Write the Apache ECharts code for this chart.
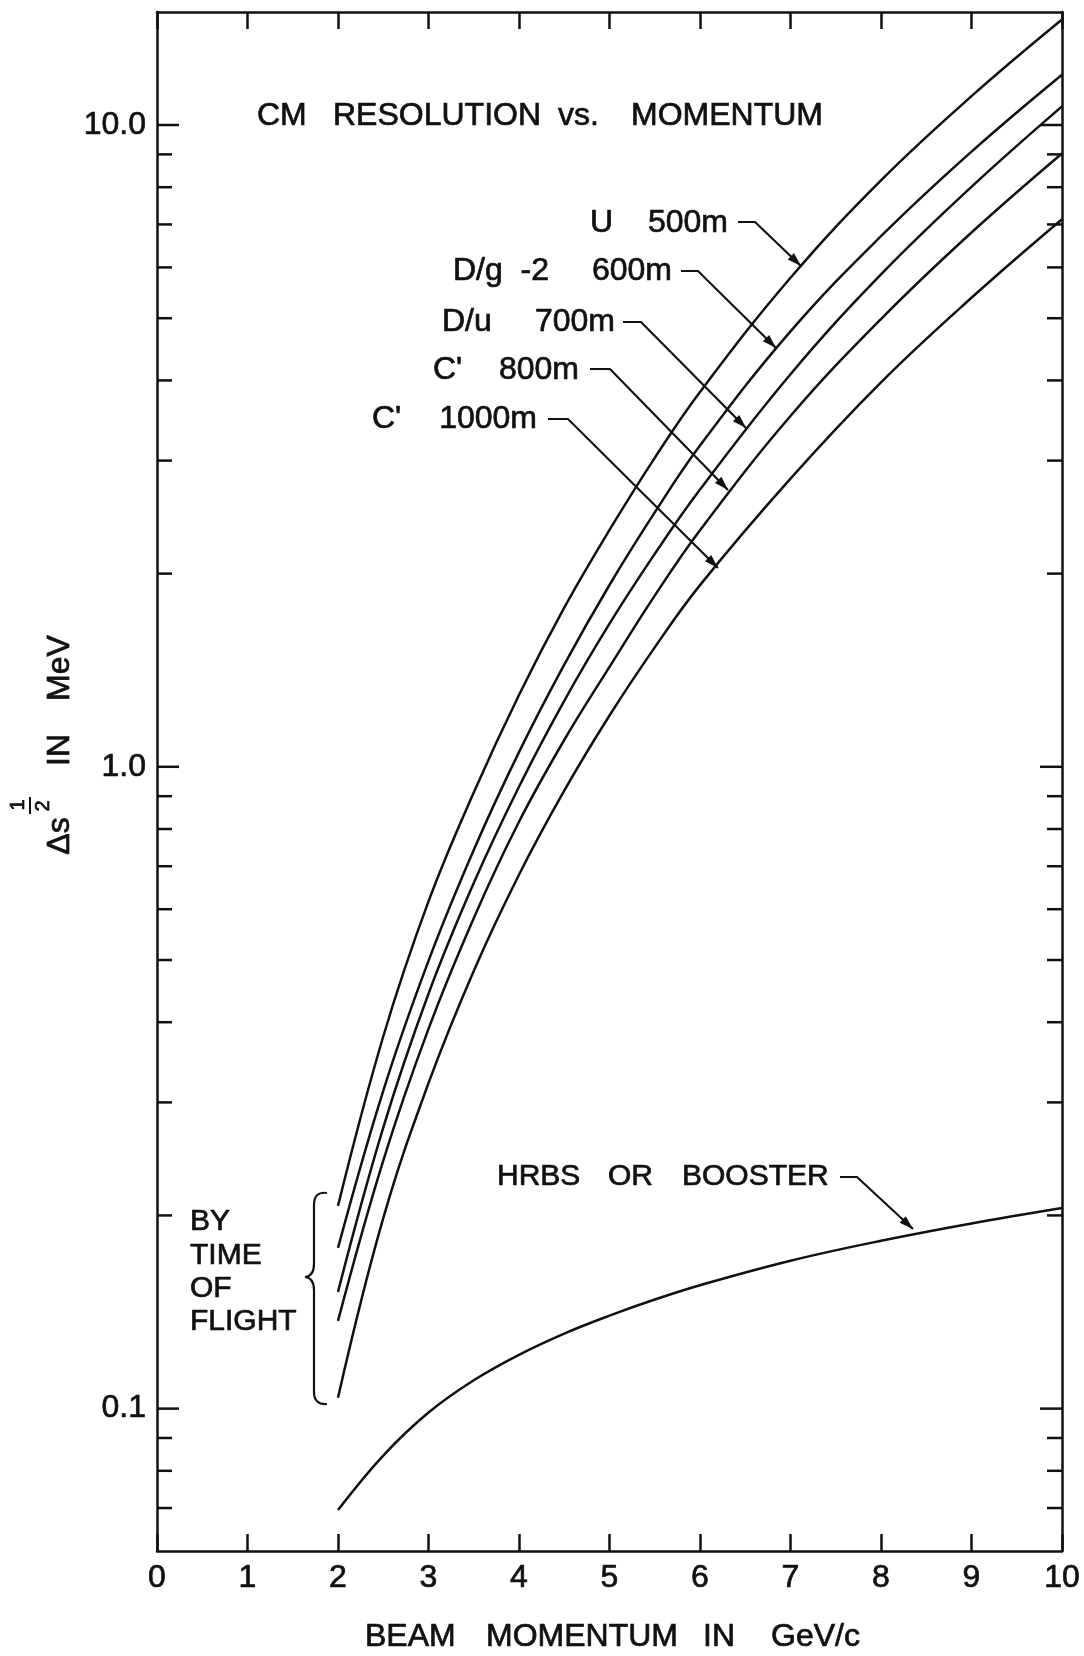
<!DOCTYPE html>
<html>
<head>
<meta charset="utf-8">
<script src="https://cdn.jsdelivr.net/npm/echarts@6/dist/echarts.min.js"></script>
<style>
  html, body { margin: 0; padding: 0; background: #fff; }
  #chart { width: 1084px; height: 1656px; }
</style>
</head>
<body>
<div id="chart"></div>
<script>
// beam momentum (GeV/c) where the curves were read
const momentum = [2, 2.5, 3, 3.5, 4, 4.5, 5, 5.5, 6, 7, 8, 9, 10];
// CM resolution in MeV, one array per spectrometer line
const u500 = [0.207, 0.380, 0.617, 0.912, 1.294, 1.770, 2.339, 3.03, 3.837, 5.78, 8.20, 11.09, 14.6];
const dg600 = [0.178, 0.3128, 0.4985, 0.742, 1.054, 1.443, 1.920, 2.491, 3.166, 4.77, 6.71, 9.09, 11.98];
const du700 = [0.152, 0.274, 0.443, 0.659, 0.931, 1.267, 1.671, 2.147, 2.704, 4.09, 5.85, 8.01, 10.69];
const c800 = [0.137, 0.2435, 0.3906, 0.581, 0.821, 1.101, 1.431, 1.848, 2.337, 3.52, 4.985, 6.80, 9.03];
const c1000 = [0.104, 0.198, 0.3214, 0.4808, 0.679, 0.918, 1.202, 1.535, 1.919, 2.812, 3.972, 5.38, 7.13];
const hrbs = [0.0695, 0.0845, 0.0986, 0.1107, 0.1213, 0.1309, 0.1396, 0.1479, 0.1557, 0.170, 0.1826, 0.1943, 0.2054];

// axis ticks / labels
const xTickLabels = ['0', '1', '2', '3', '4', '5', '6', '7', '8', '9', '10'];
const yTicks = [0.07, 0.08, 0.09, 0.1, 0.2, 0.3, 0.4, 0.5, 0.6, 0.7, 0.8, 0.9, 1, 2, 3, 4, 5, 6, 7, 8, 9, 10];
const yLabelValues = [0.1, 1, 10];
const yLabelText = ['0.1', '1.0', '10.0'];

const INK = '#111';
const FONT = '"Liberation Sans", Arial, sans-serif';

const chart = echarts.init(document.getElementById('chart'));

const curve = (arr) => ({
  type: 'line',
  data: momentum.map((x, i) => [x, arr[i]]),
  showSymbol: false,
  smooth: 0.4,
  silent: true,
  lineStyle: { color: INK, width: 2.5 },
  z: 3
});

const yLabel = (v) => {
  const i = yLabelValues.findIndex((t) => Math.abs(Math.log10(t) - Math.log10(v)) < 1e-6);
  return i >= 0 ? yLabelText[i] : '';
};

// tick marks on both vertical sides, placed through the log axis
const renderTick = (params, api) => {
  const v = api.value(1);
  const l = api.coord([0, v]);
  const r = api.coord([10, v]);
  const major = yLabelValues.some((t) => Math.abs(t - v) < 1e-9);
  const len = major ? 22 : 15;
  const st = { stroke: INK, lineWidth: 2.5 };
  return {
    type: 'group',
    children: [
      { type: 'line', shape: { x1: l[0], y1: l[1], x2: l[0] + len, y2: l[1] }, style: st },
      { type: 'line', shape: { x1: r[0], y1: r[1], x2: r[0] - len, y2: r[1] }, style: st }
    ]
  };
};

// lettering is a bit heavier than the plain font, so give it a hairline outline
const txt = (text, x, y, size, align, extra) => Object.assign({
  type: 'text', x, y, silent: true,
  style: {
    text, fill: INK, font: size + 'px ' + FONT,
    stroke: INK, lineWidth: 0.7,
    align: align, textAlign: align, verticalAlign: 'middle', textVerticalAlign: 'middle'
  }
}, extra || {});

const vtxt = (text, x, y, size) => txt(text, x, y, size, 'center', { rotation: Math.PI / 2 });

const stroke = { stroke: INK, lineWidth: 2.2, fill: 'none' };

const leader = (points) => {
  const [x1, y1] = points[points.length - 2];
  const [x2, y2] = points[points.length - 1];
  const a = Math.atan2(y2 - y1, x2 - x1);
  const L = 14, W = 4.5;
  const bx = x2 - L * Math.cos(a), by = y2 - L * Math.sin(a);
  return [
    { type: 'polyline', silent: true, shape: { points }, style: stroke },
    { type: 'polygon', silent: true, shape: { points: [[x2, y2], [bx - W * Math.sin(a), by + W * Math.cos(a)], [bx + W * Math.sin(a), by - W * Math.cos(a)]] }, style: { fill: INK } }
  ];
};

const bez = (x1, y1, cx, cy, x2, y2) => ({
  type: 'bezierCurve', silent: true,
  shape: { x1, y1, x2, y2, cpx1: cx, cpy1: cy },
  style: stroke
});
const seg = (x1, y1, x2, y2) => ({ type: 'line', silent: true, shape: { x1, y1, x2, y2 }, style: stroke });

const labelStyle = { color: INK, fontSize: 32, fontFamily: FONT, textBorderColor: INK, textBorderWidth: 0.7 };

const xAxisBase = {
  type: 'value', min: 0, max: 10, interval: 1,
  axisLine: { show: true, onZero: false, lineStyle: { color: INK, width: 2.5 } },
  axisTick: { show: true, inside: true, length: 17, lineStyle: { color: INK, width: 2.5 } },
  splitLine: { show: false }
};
const yAxisBase = {
  type: 'log', logBase: 10, min: 0.06, max: 15,
  axisLine: { show: true, onZero: false, lineStyle: { color: INK, width: 2.5 } },
  axisTick: { show: false },
  splitLine: { show: false },
  minorTick: { show: false }
};

chart.setOption({
  animation: false,
  backgroundColor: '#fff',
  grid: { left: 157, right: 22, top: 12, bottom: 105, containLabel: false, outerBoundsMode: 'none' },
  xAxis: [
    Object.assign({}, xAxisBase, {
      position: 'bottom',
      axisLabel: Object.assign({}, labelStyle, {
        margin: 11, lineHeight: 32,
        formatter: (v) => xTickLabels[Math.round(v)] || ''
      })
    }),
    Object.assign({}, xAxisBase, { position: 'top', axisLabel: { show: false } })
  ],
  yAxis: [
    Object.assign({}, yAxisBase, {
      position: 'left',
      axisLabel: Object.assign({}, labelStyle, {
        margin: 11, showMinLabel: false, showMaxLabel: false, formatter: yLabel
      })
    }),
    Object.assign({}, yAxisBase, { position: 'right', axisLabel: { show: false } })
  ],
  series: [
    curve(u500), curve(dg600), curve(du700), curve(c800), curve(c1000), curve(hrbs),
    {
      type: 'custom',
      silent: true,
      xAxisIndex: 0, yAxisIndex: 0,
      encode: { x: 0, y: 1 },
      data: yTicks.map((v) => [0, v]),
      renderItem: renderTick,
      clip: false,
      z: 4
    }
  ],
  graphic: [
    // title
    txt('CM', 257, 116, 32, 'left'),
    txt('RESOLUTION', 333, 116, 32, 'left'),
    txt('vs.', 558, 116, 32, 'left'),
    txt('MOMENTUM', 631, 116, 32, 'left'),
    // curve labels
    txt('U', 590, 223, 32, 'left'), txt('500m', 728, 223, 32, 'right'),
    txt('D/g  -2', 453, 271, 32, 'left'), txt('600m', 672, 271, 32, 'right'),
    txt('D/u', 442, 322, 32, 'left'), txt('700m', 615, 322, 32, 'right'),
    txt("C'", 433, 370, 32, 'left'), txt('800m', 579, 370, 32, 'right'),
    txt("C'", 372, 419, 32, 'left'), txt('1000m', 537, 419, 32, 'right'),
    ...leader([[738, 222], [755, 222], [801, 266]]),
    ...leader([[681, 271], [698, 271], [776, 348]]),
    ...leader([[623, 322], [641, 322], [746, 428]]),
    ...leader([[590, 369], [610, 369], [728, 490]]),
    ...leader([[548, 419], [568, 419], [718, 568]]),
    // lower curve label
    txt('HRBS', 497, 1177, 30, 'left'),
    txt('OR', 608, 1177, 30, 'left'),
    txt('BOOSTER', 682, 1177, 30, 'left'),
    ...leader([[840, 1177], [857, 1177], [913, 1229]]),
    // time of flight bracket
    {
      type: 'text', x: 190, y: 1272, silent: true,
      style: {
        text: 'BY\nTIME\nOF\nFLIGHT', fill: INK, font: '30px ' + FONT, lineHeight: 33.3,
        stroke: INK, lineWidth: 0.7,
        align: 'left', textAlign: 'left', verticalAlign: 'middle', textVerticalAlign: 'middle'
      }
    },
    bez(327, 1193, 314, 1191, 314, 1205),
    seg(314, 1205, 314, 1264),
    bez(314, 1264, 314, 1276, 305, 1277),
    bez(305, 1277, 314, 1278, 314, 1290),
    seg(314, 1290, 314, 1392),
    bez(314, 1392, 314, 1405, 327, 1404),
    // axis names
    txt('BEAM', 365, 1637, 32, 'left'),
    txt('MOMENTUM', 486, 1637, 32, 'left'),
    txt('IN', 703, 1637, 32, 'left'),
    txt('GeV/c', 771, 1637, 32, 'left'),
    vtxt('MeV', 60, 668, 32),
    vtxt('IN', 60, 750, 32),
    vtxt('Δs', 60, 836, 32),
    vtxt('1', 18, 805, 20),
    vtxt('2', 43, 806, 20),
    { type: 'line', silent: true, shape: { x1: 30, y1: 797, x2: 30, y2: 814 }, style: { stroke: INK, lineWidth: 2 } }
  ]
});
</script>
</body>
</html>
